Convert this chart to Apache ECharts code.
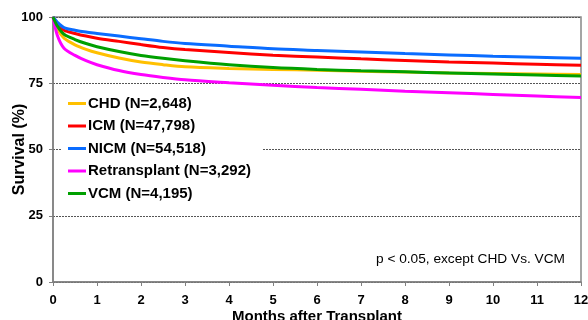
<!DOCTYPE html>
<html><head><meta charset="utf-8">
<script src="https://cdn.jsdelivr.net/npm/echarts@6/dist/echarts.min.js"></script>
<style>html,body{margin:0;padding:0;background:#fff}#c{width:588px;height:320px}</style>
</head><body><div id="c"></div>
<script>
const months = [0, 0.1, 0.25, 0.5, 0.75, 1, 1.5, 2, 2.5, 3, 4, 5, 6, 7, 8, 9, 10, 11, 12];
const seriesNames = ['CHD (N=2,648)', 'ICM (N=47,798)', 'NICM (N=54,518)', 'Retransplant (N=3,292)', 'VCM (N=4,195)'];
const chd   = [100, 95.5, 92, 89.5, 87.8, 86.5, 84.5, 83, 82, 81.2, 80.6, 80.2, 79.9, 79.5, 79.2, 78.9, 78.7, 78.5, 78.3];
const icm   = [100, 97.5, 95, 93.8, 92.8, 92, 90.8, 89.6, 88.5, 87.7, 86.6, 85.6, 84.9, 84.2, 83.6, 83, 82.6, 82.2, 81.8];
const nicm  = [100, 98, 96, 95, 94.3, 93.8, 92.8, 91.8, 90.8, 90, 89, 88, 87.4, 86.8, 86.2, 85.7, 85.2, 84.8, 84.4];
const retx  = [100, 93, 88.2, 85.5, 83.5, 82, 79.8, 78.3, 77.2, 76.3, 75.2, 74.2, 73.4, 72.7, 72, 71.4, 70.8, 70.2, 69.6];
const vcm   = [100, 96.5, 93.5, 91.5, 90, 88.8, 87, 85.5, 84.4, 83.5, 82, 80.9, 80.2, 79.7, 79.3, 78.9, 78.5, 78.1, 77.7];
const colors = ['#FFC000', '#FF0000', '#0A6CFF', '#FF00FF', '#00A000'];
const yTicks = [0, 25, 50, 75, 100];
const xTicks = [0,1,2,3,4,5,6,7,8,9,10,11,12];
const note = 'p < 0.05, except CHD Vs. VCM';

const allData = [chd, icm, nicm, retx, vcm];
const FONT = 'Liberation Sans, Arial, sans-serif';
const chart = echarts.init(document.getElementById('c'));
chart.setOption({
  animation: false,
  grid: { left: 53, right: 7, top: 17, bottom: 38, containLabel: false, outerBoundsMode: 'none',
          show: true, borderColor: '#888', borderWidth: 1.5 },
  xAxis: {
    type: 'value', min: 0, max: 12, interval: 1,
    name: 'Months after Transplant', nameLocation: 'middle', nameGap: 27, nameMoveOverlap: false,
    nameTextStyle: { fontFamily: FONT, fontWeight: 'bold', fontSize: 15, color: '#000' },
    axisLine: { show: true, lineStyle: { color: '#808080', width: 1.5 } },
    axisTick: { show: true, length: 4, lineStyle: { color: '#808080' } },
    axisLabel: { fontFamily: FONT, fontWeight: 'bold', fontSize: 13, color: '#000', margin: 12,
      formatter: v => xTicks.includes(v) ? String(v) : '' },
    splitLine: { show: false }
  },
  yAxis: {
    type: 'value', min: 0, max: 100, interval: 25,
    name: 'Survival (%)', nameLocation: 'middle', nameGap: 25, nameMoveOverlap: false,
    nameTextStyle: { fontFamily: FONT, fontWeight: 'bold', fontSize: 16, color: '#000' },
    axisLine: { show: true, lineStyle: { color: '#808080', width: 1.5 } },
    axisTick: { show: true, length: 4, lineStyle: { color: '#808080' } },
    axisLabel: { fontFamily: FONT, fontWeight: 'bold', fontSize: 13, color: '#000', margin: 10,
      formatter: v => yTicks.includes(v) ? String(v) : '' },
    splitLine: { show: true, lineStyle: { color: '#555', type: [2, 1], width: 1 } }
  },
  legend: {
    orient: 'vertical', left: 62, top: 92,
    backgroundColor: '#fff', padding: [4, 12, 4, 6],
    itemGap: 7.5, itemWidth: 18, itemHeight: 3, icon: 'rect',
    textStyle: { fontFamily: FONT, fontWeight: 'bold', fontSize: 15, color: '#000', padding: [0,0,0,-3] },
    data: seriesNames
  },
  graphic: [{
    type: 'text', right: 23, top: 252,
    style: { text: note, font: '13.7px ' + FONT, fill: '#000' }
  }],
  series: seriesNames.map((n, i) => ({
    name: n, type: 'line', smooth: 0.3, showSymbol: false,
    data: months.map((m, j) => [m, allData[i][j]]),
    lineStyle: { color: colors[i], width: 3 }, itemStyle: { color: colors[i] },
    z: i === 0 ? 2 : 3
  }))
});
</script></body></html>
